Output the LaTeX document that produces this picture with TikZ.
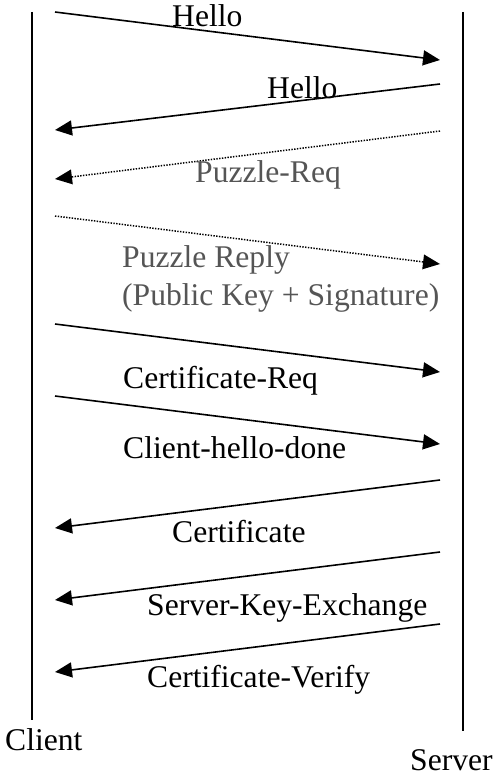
\documentclass[tikz,border=0pt]{standalone}
\usepackage{fontspec}
\setmainfont{Liberation Serif}
\usetikzlibrary{arrows.meta}
\definecolor{lblgray}{HTML}{555555}
\begin{document}
\begin{tikzpicture}[x=1pt,y=-1pt,
  lifeline/.style={line width=1.4pt},
  msg/.style={line width=1.6pt,-{Triangle[length=17pt,width=15pt]}},
  dotmsg/.style={line width=1.5pt,dash pattern=on 1.4pt off 1.4pt,-{Triangle[length=17pt,width=15pt,line width=0pt]}},
  lbl/.style={anchor=base west,inner sep=0pt,font=\fontsize{31.6}{36}\selectfont},
  glbl/.style={lbl,text=lblgray}]
\useasboundingbox (0,0) rectangle (496,776);
% lifelines
\coordinate (ctop) at (32,12); \coordinate (cbot) at (32,720);
\coordinate (stop) at (463,12); \coordinate (sbot) at (463,731);
\draw[lifeline] (ctop) -- (cbot);
\draw[lifeline] (stop) -- (sbot);
% message end points
\coordinate (c1) at (55,12);  \coordinate (s1) at (440,60);
\coordinate (s2) at (440,84); \coordinate (c2) at (55,130);
\coordinate (s3) at (440,131);\coordinate (c3) at (55,179);
\coordinate (c4) at (55,216); \coordinate (s4) at (440,264);
\coordinate (c5) at (55,324); \coordinate (s5) at (440,372);
\coordinate (c6) at (55,396); \coordinate (s6) at (440,444);
\coordinate (s7) at (440,480);\coordinate (c7) at (55,528);
\coordinate (s8) at (440,552);\coordinate (c8) at (55,600);
\coordinate (s9) at (440,624);\coordinate (c9) at (55,672);
\draw[msg] (c1) -- (s1);
\draw[msg] (s2) -- (c2);
\draw[dotmsg] (s3) -- (c3);
\draw[dotmsg] (c4) -- (s4);
\draw[msg] (c5) -- (s5);
\draw[msg] (c6) -- (s6);
\draw[msg] (s7) -- (c7);
\draw[msg] (s8) -- (c8);
\draw[msg] (s9) -- (c9);
% labels
\node[lbl] (l1) at (172,27) {Hello};
\node[lbl] (l2) at (267,99) {Hello};
\node[glbl] (l3) at (195,182) {Puzzle-Req};
\node[glbl] (l4) at (122,267) {Puzzle Reply};
\node[glbl] (l4b) at (122,305) {(Public Key + Signature)};
\node[lbl] (l5) at (123,388) {Certificate-Req};
\node[lbl] (l6) at (123,458) {Client-hello-done};
\node[lbl] (l7) at (172,542) {Certificate};
\node[lbl] (l8) at (147,615) {Server-Key-Exchange};
\node[lbl] (l9) at (147,687) {Certificate-Verify};
\node[lbl] (client) at (5,750) {Client};
\node[lbl] (server) at (410,770) {Server};
\end{tikzpicture}
\end{document}
